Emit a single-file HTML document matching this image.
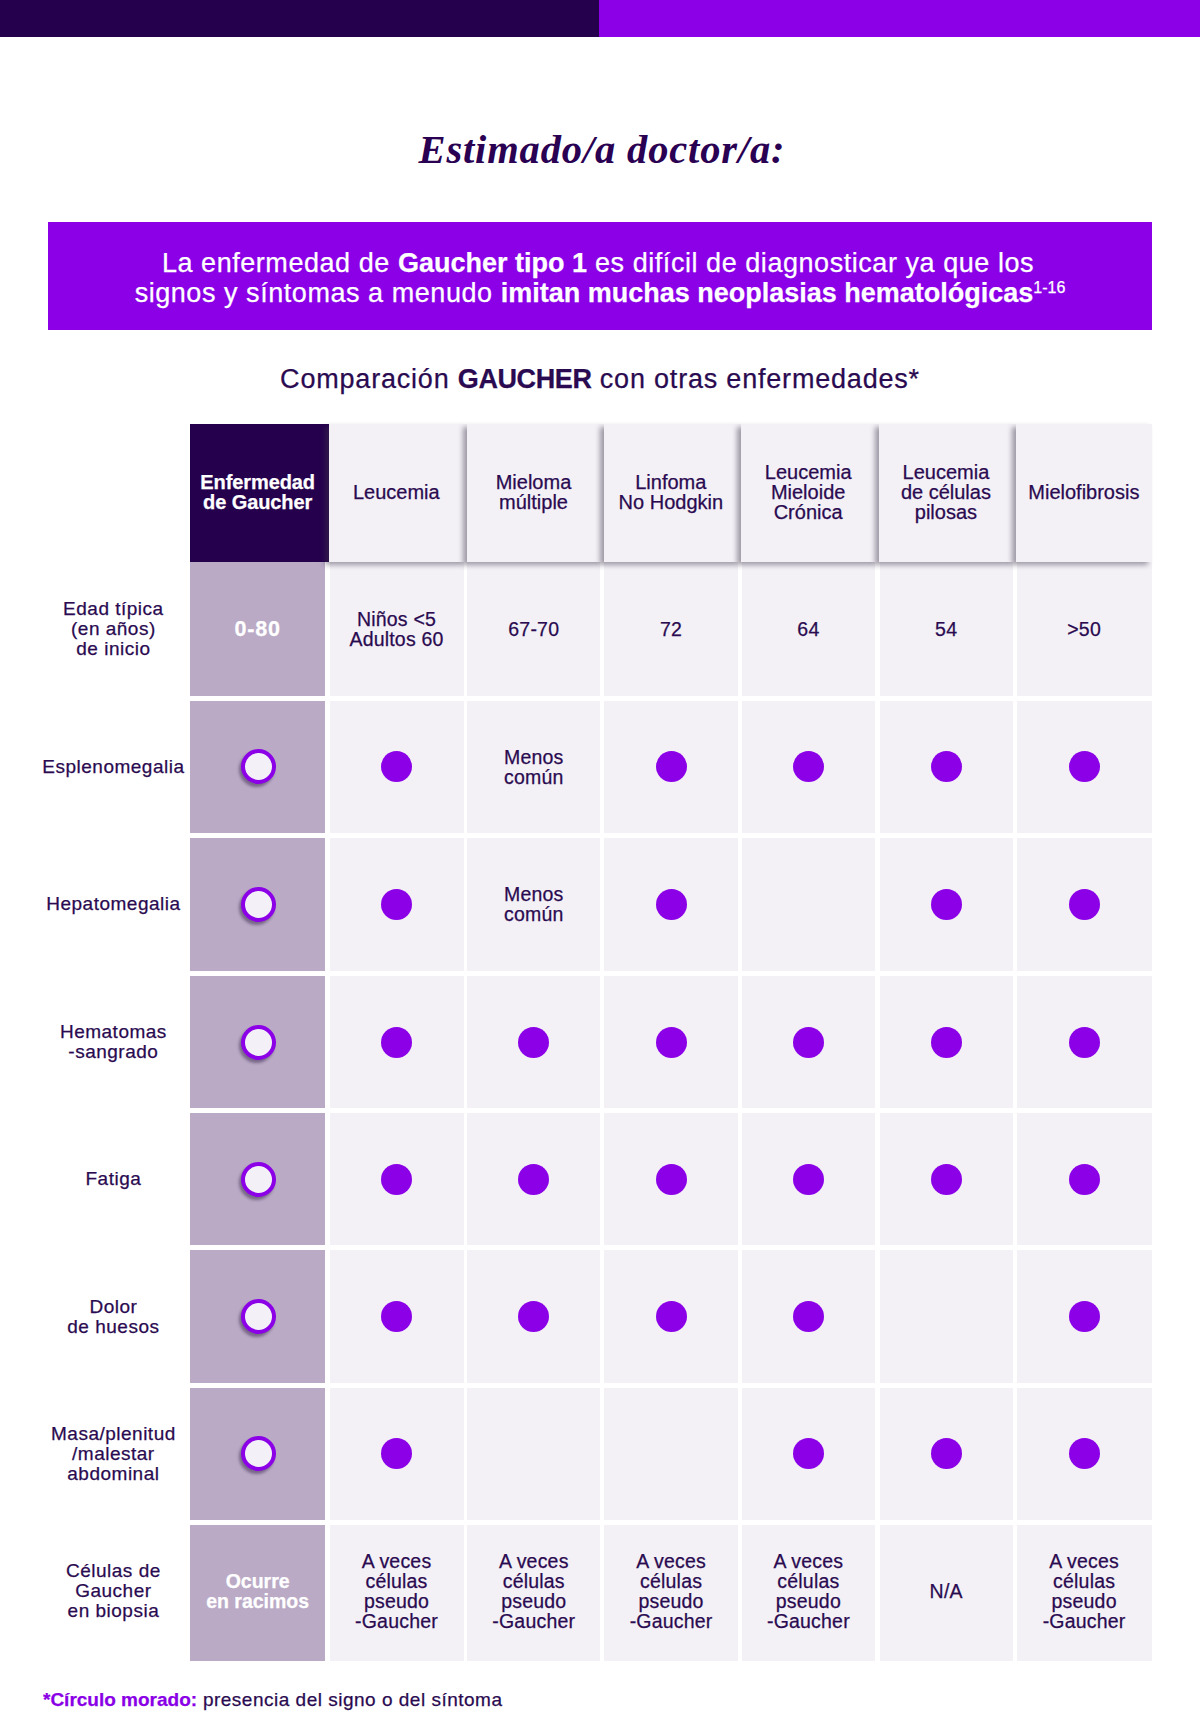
<!DOCTYPE html>
<html><head><meta charset="utf-8">
<style>
*{margin:0;padding:0;box-sizing:border-box}
html,body{width:1200px;height:1733px;background:#fff;overflow:hidden}
body{position:relative;font-family:"Liberation Sans",sans-serif;color:#2a0a50;-webkit-text-stroke:0.25px currentColor}
.abs{position:absolute}
.bar1{left:0;top:0;width:599px;height:37px;background:#25004d}
.bar2{left:599px;top:0;width:601px;height:37px;background:#8c00e8}
.title{left:2px;width:1200px;top:125px;text-align:center;font-family:"Liberation Serif",serif;font-weight:bold;font-style:italic;font-size:40.5px;line-height:50px;letter-spacing:0.85px;color:#2a0052;white-space:nowrap;-webkit-text-stroke:0}
.banner{left:48px;top:222px;width:1104px;height:108px;background:#8c00e8}
.bl{left:0;width:1200px;text-align:center;color:#fff;font-size:27px;line-height:30px;white-space:nowrap;letter-spacing:0.55px}
.bl b{font-weight:bold;letter-spacing:0}
.bl sup{font-size:16px;vertical-align:top;position:relative;top:-5px;letter-spacing:0}
.sub{left:0;width:1200px;top:362px;text-align:center;font-size:27px;line-height:34px;color:#2a0a50;letter-spacing:0.8px;white-space:nowrap}
.sub b{letter-spacing:-0.4px}
.cell{display:flex;align-items:center;justify-content:center;text-align:center;font-size:19.5px;line-height:20px;letter-spacing:0.2px;color:#2a0a50}
.hdr{background:#f3f1f6;box-shadow:-4px 3px 5px rgba(60,50,70,.45);font-size:20px;letter-spacing:0}
.hg{background:#25004d;color:#fff;font-weight:bold;font-size:20px;letter-spacing:-0.1px}
.lav{background:#baaac6;color:#fff;font-weight:bold;letter-spacing:0}
.lt{background:#f3f1f6}
.lbl{font-size:19px;line-height:20px;letter-spacing:0.5px}
.dot{width:31px;height:31px;border-radius:50%;background:#8c00e8}
.ring{width:35px;height:35px;border-radius:50%;background:#f4f0f8;border:4px solid #8c00e8;box-shadow:-2px 3px 3px rgba(40,20,60,.45);margin-left:2px}
.foot{left:43px;top:1688px;font-size:19px;line-height:24px;color:#2a0a50;letter-spacing:0.5px;white-space:nowrap}
.foot b{color:#8a00e6;letter-spacing:0}
</style></head><body>
<div class="abs bar1"></div><div class="abs bar2"></div>
<div class="abs title">Estimado/a doctor/a:</div>
<div class="abs banner"></div>
<div class="abs bl" style="top:247.5px;left:-2px">La enfermedad de <b>Gaucher tipo 1</b> es difícil de diagnosticar ya que los</div>
<div class="abs bl" style="top:277.5px">signos y síntomas a menudo <b>imitan muchas neoplasias hematológicas</b><sup>1-16</sup></div>
<div class="abs sub">Comparación <b>GAUCHER</b> con otras enfermedades*</div>

<div class="abs cell lav" style="left:190px;top:561px;width:135.25px;height:135.00px;"><span style="font-size:21.5px;letter-spacing:0.8px">0-80</span></div>
<div class="abs cell lt" style="left:329.5px;top:561px;width:134.00px;height:135.00px;">Niños &lt;5<br>Adultos 60</div>
<div class="abs cell lt" style="left:467.3px;top:561px;width:132.90px;height:135.00px;">67-70</div>
<div class="abs cell lt" style="left:604.4px;top:561px;width:133.40px;height:135.00px;">72</div>
<div class="abs cell lt" style="left:741.8px;top:561px;width:133.20px;height:135.00px;">64</div>
<div class="abs cell lt" style="left:879.6px;top:561px;width:133.15px;height:135.00px;">54</div>
<div class="abs cell lt" style="left:1016.5px;top:561px;width:135.25px;height:135.00px;">&gt;50</div>
<div class="abs cell lbl" style="left:30.4px;top:561px;width:166px;height:135.00px;">Edad típica<br>(en años)<br>de inicio</div>
<div class="abs cell lav" style="left:190px;top:700.6px;width:135.25px;height:132.70px;"><div class="ring"></div></div>
<div class="abs cell lt" style="left:329.5px;top:700.6px;width:134.00px;height:132.70px;"><div class="dot"></div></div>
<div class="abs cell lt" style="left:467.3px;top:700.6px;width:132.90px;height:132.70px;">Menos<br>común</div>
<div class="abs cell lt" style="left:604.4px;top:700.6px;width:133.40px;height:132.70px;"><div class="dot"></div></div>
<div class="abs cell lt" style="left:741.8px;top:700.6px;width:133.20px;height:132.70px;"><div class="dot"></div></div>
<div class="abs cell lt" style="left:879.6px;top:700.6px;width:133.15px;height:132.70px;"><div class="dot"></div></div>
<div class="abs cell lt" style="left:1016.5px;top:700.6px;width:135.25px;height:132.70px;"><div class="dot"></div></div>
<div class="abs cell lbl" style="left:30.4px;top:700.6px;width:166px;height:132.70px;">Esplenomegalia</div>
<div class="abs cell lav" style="left:190px;top:837.5px;width:135.25px;height:133.75px;"><div class="ring"></div></div>
<div class="abs cell lt" style="left:329.5px;top:837.5px;width:134.00px;height:133.75px;"><div class="dot"></div></div>
<div class="abs cell lt" style="left:467.3px;top:837.5px;width:132.90px;height:133.75px;">Menos<br>común</div>
<div class="abs cell lt" style="left:604.4px;top:837.5px;width:133.40px;height:133.75px;"><div class="dot"></div></div>
<div class="abs cell lt" style="left:741.8px;top:837.5px;width:133.20px;height:133.75px;"></div>
<div class="abs cell lt" style="left:879.6px;top:837.5px;width:133.15px;height:133.75px;"><div class="dot"></div></div>
<div class="abs cell lt" style="left:1016.5px;top:837.5px;width:135.25px;height:133.75px;"><div class="dot"></div></div>
<div class="abs cell lbl" style="left:30.4px;top:837.5px;width:166px;height:133.75px;">Hepatomegalia</div>
<div class="abs cell lav" style="left:190px;top:975.6px;width:135.25px;height:132.90px;"><div class="ring"></div></div>
<div class="abs cell lt" style="left:329.5px;top:975.6px;width:134.00px;height:132.90px;"><div class="dot"></div></div>
<div class="abs cell lt" style="left:467.3px;top:975.6px;width:132.90px;height:132.90px;"><div class="dot"></div></div>
<div class="abs cell lt" style="left:604.4px;top:975.6px;width:133.40px;height:132.90px;"><div class="dot"></div></div>
<div class="abs cell lt" style="left:741.8px;top:975.6px;width:133.20px;height:132.90px;"><div class="dot"></div></div>
<div class="abs cell lt" style="left:879.6px;top:975.6px;width:133.15px;height:132.90px;"><div class="dot"></div></div>
<div class="abs cell lt" style="left:1016.5px;top:975.6px;width:135.25px;height:132.90px;"><div class="dot"></div></div>
<div class="abs cell lbl" style="left:30.4px;top:975.6px;width:166px;height:132.90px;">Hematomas<br>-sangrado</div>
<div class="abs cell lav" style="left:190px;top:1112.8px;width:135.25px;height:132.50px;"><div class="ring"></div></div>
<div class="abs cell lt" style="left:329.5px;top:1112.8px;width:134.00px;height:132.50px;"><div class="dot"></div></div>
<div class="abs cell lt" style="left:467.3px;top:1112.8px;width:132.90px;height:132.50px;"><div class="dot"></div></div>
<div class="abs cell lt" style="left:604.4px;top:1112.8px;width:133.40px;height:132.50px;"><div class="dot"></div></div>
<div class="abs cell lt" style="left:741.8px;top:1112.8px;width:133.20px;height:132.50px;"><div class="dot"></div></div>
<div class="abs cell lt" style="left:879.6px;top:1112.8px;width:133.15px;height:132.50px;"><div class="dot"></div></div>
<div class="abs cell lt" style="left:1016.5px;top:1112.8px;width:135.25px;height:132.50px;"><div class="dot"></div></div>
<div class="abs cell lbl" style="left:30.4px;top:1112.8px;width:166px;height:132.50px;">Fatiga</div>
<div class="abs cell lav" style="left:190px;top:1249.9px;width:135.25px;height:133.35px;"><div class="ring"></div></div>
<div class="abs cell lt" style="left:329.5px;top:1249.9px;width:134.00px;height:133.35px;"><div class="dot"></div></div>
<div class="abs cell lt" style="left:467.3px;top:1249.9px;width:132.90px;height:133.35px;"><div class="dot"></div></div>
<div class="abs cell lt" style="left:604.4px;top:1249.9px;width:133.40px;height:133.35px;"><div class="dot"></div></div>
<div class="abs cell lt" style="left:741.8px;top:1249.9px;width:133.20px;height:133.35px;"><div class="dot"></div></div>
<div class="abs cell lt" style="left:879.6px;top:1249.9px;width:133.15px;height:133.35px;"></div>
<div class="abs cell lt" style="left:1016.5px;top:1249.9px;width:135.25px;height:133.35px;"><div class="dot"></div></div>
<div class="abs cell lbl" style="left:30.4px;top:1249.9px;width:166px;height:133.35px;">Dolor<br>de huesos</div>
<div class="abs cell lav" style="left:190px;top:1387.6px;width:135.25px;height:132.65px;"><div class="ring"></div></div>
<div class="abs cell lt" style="left:329.5px;top:1387.6px;width:134.00px;height:132.65px;"><div class="dot"></div></div>
<div class="abs cell lt" style="left:467.3px;top:1387.6px;width:132.90px;height:132.65px;"></div>
<div class="abs cell lt" style="left:604.4px;top:1387.6px;width:133.40px;height:132.65px;"></div>
<div class="abs cell lt" style="left:741.8px;top:1387.6px;width:133.20px;height:132.65px;"><div class="dot"></div></div>
<div class="abs cell lt" style="left:879.6px;top:1387.6px;width:133.15px;height:132.65px;"><div class="dot"></div></div>
<div class="abs cell lt" style="left:1016.5px;top:1387.6px;width:135.25px;height:132.65px;"><div class="dot"></div></div>
<div class="abs cell lbl" style="left:30.4px;top:1387.6px;width:166px;height:132.65px;">Masa/plenitud<br>/malestar<br>abdominal</div>
<div class="abs cell lav" style="left:190px;top:1524.75px;width:135.25px;height:136.00px;padding-bottom:4px;">Ocurre<br>en racimos</div>
<div class="abs cell lt" style="left:329.5px;top:1524.75px;width:134.00px;height:136.00px;padding-bottom:4px;">A veces<br>células<br>pseudo<br>-Gaucher</div>
<div class="abs cell lt" style="left:467.3px;top:1524.75px;width:132.90px;height:136.00px;padding-bottom:4px;">A veces<br>células<br>pseudo<br>-Gaucher</div>
<div class="abs cell lt" style="left:604.4px;top:1524.75px;width:133.40px;height:136.00px;padding-bottom:4px;">A veces<br>células<br>pseudo<br>-Gaucher</div>
<div class="abs cell lt" style="left:741.8px;top:1524.75px;width:133.20px;height:136.00px;padding-bottom:4px;">A veces<br>células<br>pseudo<br>-Gaucher</div>
<div class="abs cell lt" style="left:879.6px;top:1524.75px;width:133.15px;height:136.00px;padding-bottom:4px;">N/A</div>
<div class="abs cell lt" style="left:1016.5px;top:1524.75px;width:135.25px;height:136.00px;padding-bottom:4px;">A veces<br>células<br>pseudo<br>-Gaucher</div>
<div class="abs cell lbl" style="left:30.4px;top:1524.75px;width:166px;height:136.00px;padding-bottom:4px;">Células de<br>Gaucher<br>en biopsia</div>
<div class="abs cell hg" style="left:190px;top:423.5px;width:139.00px;height:138.5px;padding-right:3.75px;padding-bottom:2px">Enfermedad<br>de Gaucher</div>
<div class="abs cell hdr" style="left:329.0px;top:423.5px;width:137.80px;height:138.5px;padding-right:3.30px;padding-bottom:2px">Leucemia</div>
<div class="abs cell hdr" style="left:466.8px;top:423.5px;width:137.10px;height:138.5px;padding-right:3.70px;padding-bottom:2px">Mieloma<br>múltiple</div>
<div class="abs cell hdr" style="left:603.9px;top:423.5px;width:137.40px;height:138.5px;padding-right:3.50px;padding-bottom:2px">Linfoma<br>No Hodgkin</div>
<div class="abs cell hdr" style="left:741.3px;top:423.5px;width:137.80px;height:138.5px;padding-right:4.10px;padding-bottom:2px">Leucemia<br>Mieloide<br>Crónica</div>
<div class="abs cell hdr" style="left:879.1px;top:423.5px;width:136.90px;height:138.5px;padding-right:3.25px;padding-bottom:2px">Leucemia<br>de células<br>pilosas</div>
<div class="abs cell hdr" style="left:1016.0px;top:423.5px;width:135.75px;height:138.5px;padding-right:0.00px;padding-bottom:2px">Mielofibrosis</div>
<div class="abs foot"><b>*Círculo morado:</b> presencia del signo o del síntoma</div>
</body></html>
